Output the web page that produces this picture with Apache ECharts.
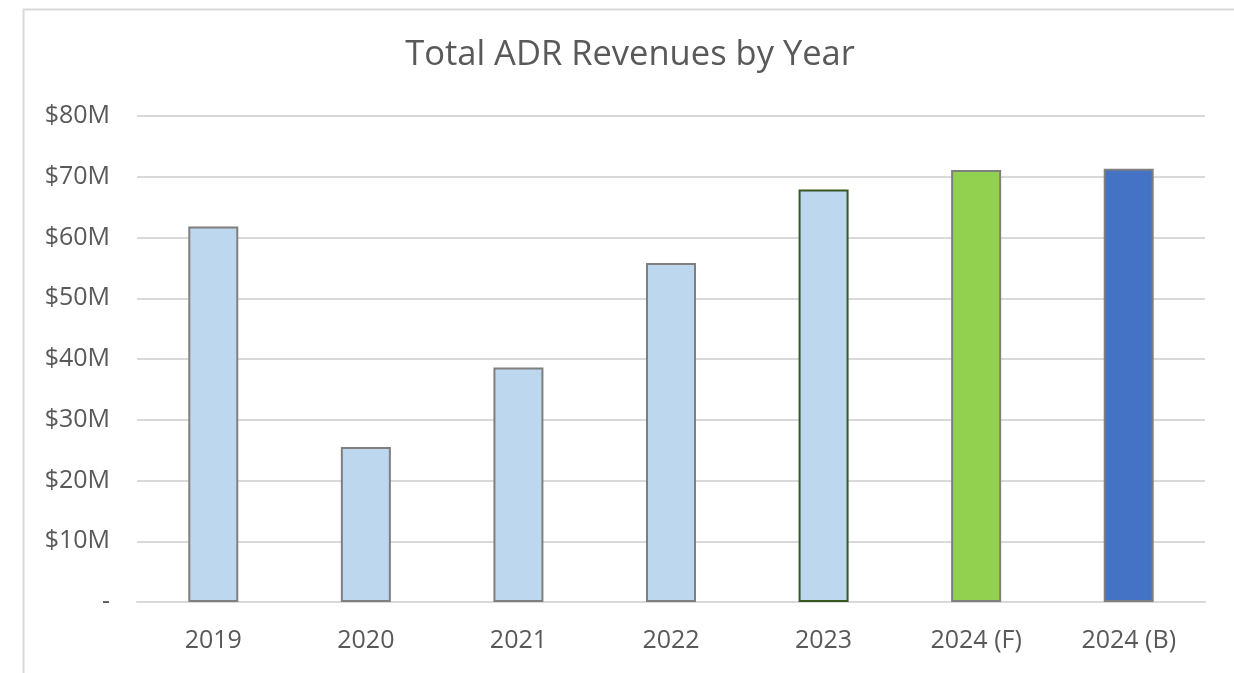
<!DOCTYPE html>
<html>
<head>
<meta charset="utf-8">
<script src="https://cdn.jsdelivr.net/npm/echarts@6/dist/echarts.min.js"></script>
<style>
html,body{margin:0;padding:0;background:#fff;}
#chart{width:1234px;height:673px;}
</style>
</head>
<body>
<div id="chart"></div>
<script>
const categories = ['2019', '2020', '2021', '2022', '2023', '2024 (F)', '2024 (B)'];
const revenues = [61.8, 25.5, 38.6, 55.8, 67.9, 71.1, 71.3];
const fillColors = ['#bdd7ee', '#bdd7ee', '#bdd7ee', '#bdd7ee', '#bdd7ee', '#92d050', '#4472c4'];
const borderColors = ['#7f7f7f', '#7f7f7f', '#7f7f7f', '#7f7f7f', '#385723', '#7f7f7f', '#7f7f7f'];
const yTicks = [0, 10, 20, 30, 40, 50, 60, 70, 80];

const chart = echarts.init(document.getElementById('chart'), null, {renderer: 'canvas'});
const font = '"Open Sans", sans-serif';
chart.setOption({
  animation: false,
  backgroundColor: '#ffffff',
  graphic: [{
    type: 'rect',
    left: 21, top: 7,
    shape: {width: 1300, height: 720},
    style: {fill: 'none', stroke: '#d9d9d9', lineWidth: 2},
    silent: true
  }],
  title: {
    text: 'Total ADR Revenues by Year',
    left: 625,
    textAlign: 'center',
    top: 33,
    textStyle: {fontFamily: font, fontSize: 34.5, fontWeight: 'normal', color: '#595959'}
  },
  grid: {left: 137, right: 29, top: 116, bottom: 71, containLabel: false},
  xAxis: {
    type: 'category',
    data: categories,
    axisLine: {show: true, lineStyle: {color: '#d9d9d9', width: 2}},
    axisTick: {show: false},
    axisLabel: {margin: 26, fontFamily: font, fontSize: 25, color: '#595959'}
  },
  yAxis: {
    type: 'value',
    min: yTicks[0],
    max: yTicks[yTicks.length - 1],
    interval: 10,
    axisLine: {show: false},
    axisTick: {show: false},
    splitLine: {lineStyle: {color: '#d9d9d9', width: 2}},
    axisLabel: {
      margin: 27,
      fontFamily: font, fontSize: 25, color: '#595959',
      formatter: v => v === 0 ? '-' : '$' + v + 'M'
    }
  },
  series: [{
    type: 'bar',
    barWidth: 50,
    data: revenues.map((v, i) => ({
      value: v,
      itemStyle: {color: fillColors[i], borderColor: borderColors[i], borderWidth: 2}
    }))
  }]
});
</script>
</body>
</html>
